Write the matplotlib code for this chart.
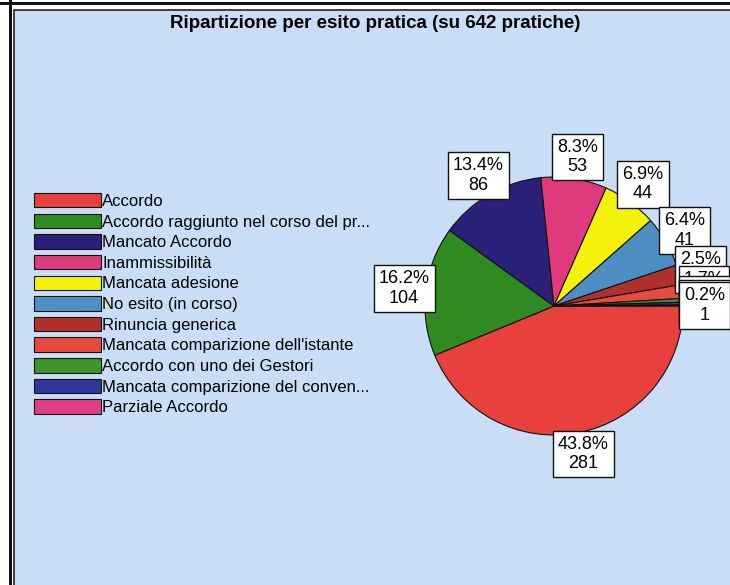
import matplotlib
matplotlib.use("Agg")
import matplotlib.pyplot as plt
from matplotlib.patches import Rectangle
import numpy as np

# dati
categorie = [
    "Accordo",
    "Accordo raggiunto nel corso del pr...",
    "Mancato Accordo",
    "Inammissibilità",
    "Mancata adesione",
    "No esito (in corso)",
    "Rinuncia generica",
    "Mancata comparizione dell'istante",
    "Accordo con uno dei Gestori",
    "Mancata comparizione del conven...",
    "Parziale Accordo",
]
pratiche = [281, 104, 86, 53, 44, 41, 16, 11, 3, 2, 1]
colori = ["#e8403c", "#2f8a1f", "#2b2178", "#de3a7c", "#f4f20a", "#4d8fc2",
          "#b0302c", "#e84a40", "#3c9628", "#34359c", "#e03f86"]
titolo = "Ripartizione per esito pratica (su 642 pratiche)"

W, H = 730, 585
fig = plt.figure(figsize=(W / 100, H / 100), dpi=100)
fig.patch.set_facecolor("white")

# cornice e sfondo azzurro (dietro gli assi)
fig.add_artist(Rectangle((0, 1 - 5 / H), 1, 3 / H, transform=fig.transFigure,
                         facecolor="#111111", edgecolor="none", zorder=-3))
fig.add_artist(Rectangle((9 / W, -0.05), 3 / W, 1.2, transform=fig.transFigure,
                         facecolor="#111111", edgecolor="none", zorder=-3))
fig.add_artist(Rectangle((14 / W, -0.05), 1.0, 1 - 10 / H + 0.05,
                         transform=fig.transFigure, facecolor="#c9def6",
                         edgecolor="#222222", linewidth=1.2, zorder=-2))

fig.text(375 / W, 1 - 23 / H, titolo, ha="center", va="center",
         fontsize=13.5, fontweight="bold", family="Liberation Sans")

# torta: centro (554, 306) px, raggio 129 px
r_px = 129
lim = 1.6
side = 2 * lim * r_px
cx, cy = 554, H - 306
ax = fig.add_axes([(cx - side / 2) / W, (cy - side / 2) / H, side / W, side / H])

wedges, _ = ax.pie(pratiche, colors=colori, startangle=0, counterclock=False,
                   wedgeprops=dict(edgecolor="#111111", linewidth=0.8))
ax.set_xlim(-lim, lim)
ax.set_ylim(-lim, lim)
ax.set_aspect("equal")
ax.axis("off")

tot = sum(pratiche)
for i, (w, n) in enumerate(zip(wedges, pratiche)):
    ang = np.deg2rad((w.theta1 + w.theta2) / 2)
    d = 1.17
    ax.text(d * np.cos(ang), d * np.sin(ang), f"{100 * n / tot:.1f}%\n{n}",
            ha="center", va="center", fontsize=13, family="Liberation Sans",
            linespacing=1.2, zorder=5 + i, clip_on=False,
            bbox=dict(boxstyle="square,pad=0.28", facecolor="white",
                      edgecolor="#111111", linewidth=1.0))

leg = fig.legend(wedges, categorie, loc="upper left",
                 bbox_to_anchor=(34 / W, 1 - 193 / H), frameon=False,
                 handlelength=4.0, handleheight=0.96, handletextpad=0.1,
                 labelspacing=0.28, borderpad=0, borderaxespad=0,
                 prop=dict(family="Liberation Sans", size=12))

fig.savefig("out.png", dpi=100)
